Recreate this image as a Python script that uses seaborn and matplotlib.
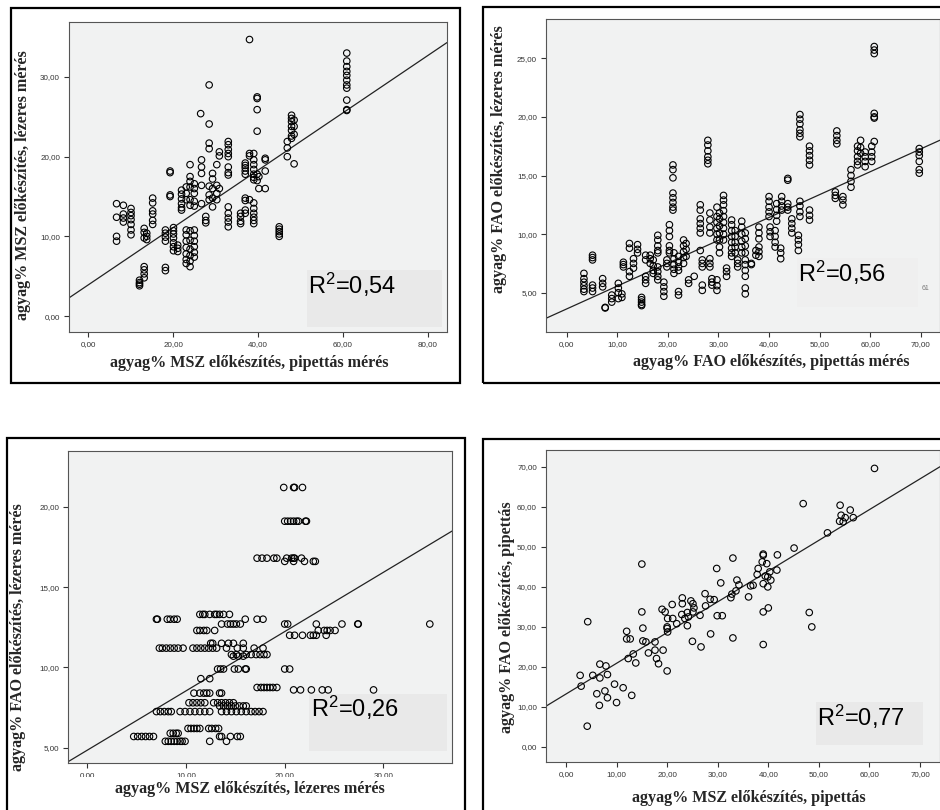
import pandas as pd
import numpy as np
import matplotlib
matplotlib.use("Agg")
import matplotlib.pyplot as plt
from matplotlib.patches import Rectangle
from matplotlib.ticker import FuncFormatter, MultipleLocator
import seaborn as sns

# --- data ------------------------------------------------------------------
# panel 1: vertical clusters (x: list of y)
p1_clusters = [
    (6.7, [14.1, 12.4, 10.0, 9.4]),
    (8.3, [13.9, 12.8, 12.3, 11.8]),
    (10.1, [13.5, 13.0, 12.6, 12.1, 11.5, 10.8, 10.2]),
    (12.1, [4.5, 4.2, 4.0, 3.8]),
    (13.2, [11.0, 10.5, 9.8, 6.2, 5.8, 5.3, 4.8]),
    (13.8, [10.4, 10.0, 9.6]),
    (15.2, [14.8, 14.2, 13.2, 12.8, 12.0, 11.5]),
    (18.2, [10.8, 10.4, 9.9, 9.4, 6.1, 5.7]),
    (19.3, [18.2, 18.0, 15.2, 15.0]),
    (20.1, [11.1, 10.7, 10.3, 9.8, 9.2, 8.7, 8.2]),
    (21.1, [8.9, 8.5, 8.1]),
    (22.0, [15.8, 15.3, 14.7, 14.1, 13.6, 13.3]),
    (23.1, [16.2, 15.4, 14.6, 10.8, 10.2, 9.4, 8.6, 7.8, 7.1, 6.6]),
    (24.0, [19.0, 17.5, 16.9, 16.2, 14.6, 13.9, 10.7, 9.5, 8.4, 7.6, 6.9, 6.2]),
    (25.0, [16.6, 16.0, 15.4, 14.4, 13.8, 10.8, 10.1, 9.4, 8.7, 8.0, 7.4]),
    (26.5, [25.4]),
    (26.7, [19.6, 18.7, 17.9, 16.4, 14.1]),
    (27.7, [12.5, 12.0, 11.7]),
    (28.5, [29.0, 24.1, 21.7, 21.0, 16.3, 15.2, 14.6]),
    (29.3, [17.9, 17.2, 16.0, 14.8, 13.7]),
    (30.3, [19.0, 16.4, 15.4, 14.6]),
    (30.9, [20.6, 20.1, 16.0]),
    (33.0, [21.9, 21.5, 20.9, 20.4, 20.0, 18.7, 18.0, 17.7, 13.7, 12.9, 12.3, 11.8, 11.2]),
    (35.9, [12.9, 12.5, 11.9, 11.6]),
    (37.0, [19.2, 18.9, 18.6, 18.2, 17.8, 14.8, 14.5, 13.3, 12.9]),
    (38.0, [34.7, 20.4, 20.1, 14.6]),
    (39.0, [20.4, 19.6, 19.0, 18.4, 17.8, 17.4, 17.1, 14.2, 13.5, 12.9, 12.4, 12.0, 11.6]),
    (39.8, [27.5, 27.3, 25.9, 23.2, 17.8, 17.0]),
    (40.2, [17.5, 16.0]),
    (41.7, [19.8, 19.6, 18.2, 16.0]),
    (45.0, [11.2, 10.9, 10.6, 10.3, 10.0]),
    (46.9, [21.9, 21.1, 20.0]),
    (47.9, [25.2, 24.8, 24.4, 23.8, 23.3, 22.6, 22.3]),
    (48.5, [24.6, 23.8, 22.8, 19.1]),
    (60.9, [33.0, 32.0, 31.3, 30.7, 30.2, 29.6, 29.0, 28.6, 27.1, 25.9, 25.8]),
]

# panel 2: vertical clusters (x: list of y)
p2_clusters = [
    (3.4, [6.65, 6.2, 5.9, 5.6, 5.3, 5.1]),
    (5.1, [8.2, 8.0, 7.8, 5.65, 5.4, 5.1]),
    (7.1, [6.2, 5.8, 5.5]),
    (7.6, [3.75, 3.7]),
    (8.9, [4.8, 4.5, 4.2]),
    (10.2, [5.8, 5.4, 5.0, 4.5]),
    (10.9, [4.9, 4.6]),
    (11.2, [7.6, 7.4, 7.2]),
    (12.4, [9.2, 8.8, 6.8, 6.4]),
    (13.2, [7.9, 7.5, 7.1]),
    (14.0, [9.1, 8.7, 8.4]),
    (14.8, [4.6, 4.4, 4.2, 4.0, 3.9]),
    (15.6, [8.2, 7.8, 6.4, 6.1, 5.8]),
    (16.5, [8.2, 7.9, 7.5]),
    (17.1, [7.8, 7.3, 6.9, 6.65]),
    (18.0, [9.9, 9.5, 9.0, 8.6, 8.4, 7.2, 6.8, 6.4, 6.1]),
    (19.2, [5.9, 5.5, 5.1, 4.7]),
    (19.8, [7.8, 7.5, 7.2]),
    (20.3, [10.8, 10.3, 9.8, 9.0, 8.6, 8.4]),
    (21.0, [15.9, 15.5, 14.8, 13.5, 13.1, 12.7, 12.3, 12.05]),
    (21.2, [8.4, 7.9, 7.4, 7.0, 6.65]),
    (22.1, [8.1, 7.6, 7.2, 6.9, 5.1, 4.8]),
    (23.1, [9.5, 9.0, 8.5, 8.0, 7.5]),
    (23.6, [9.2, 8.7, 8.1]),
    (24.1, [6.1, 5.8]),
    (25.2, [6.4]),
    (26.4, [12.5, 12.05, 11.3, 10.9, 10.5, 10.1, 8.6]),
    (26.8, [7.8, 7.5, 7.2, 5.65, 5.2]),
    (27.9, [18.0, 17.6, 17.1, 16.6, 16.3, 16.0]),
    (28.3, [11.8, 11.2, 10.6, 10.1, 7.9, 7.5, 7.2]),
    (28.7, [6.2, 5.9, 5.65]),
    (29.7, [12.3, 11.5, 11.0, 10.5, 10.0, 9.5, 6.1, 5.6, 5.2]),
    (30.2, [11.8, 11.3, 10.7, 10.1, 9.5, 8.9, 8.4]),
    (31.0, [13.3, 12.9, 12.5, 12.0, 11.5, 11.0, 10.5, 10.0, 9.5]),
    (31.6, [7.1, 6.8, 6.4]),
    (32.6, [11.2, 10.8, 10.3, 9.8, 9.3, 8.8, 8.4, 8.1]),
    (33.3, [10.3, 9.8, 9.3, 8.9, 8.4]),
    (33.8, [7.8, 7.5, 7.2]),
    (34.6, [11.1, 10.6, 10.0, 9.4, 8.9, 8.4]),
    (35.3, [10.1, 9.6, 9.0, 8.4, 7.8, 7.4, 6.9, 6.4, 5.4, 4.9]),
    (36.5, [7.5, 7.4]),
    (37.4, [8.6, 8.2]),
    (38.0, [10.6, 10.1, 9.6, 8.9, 8.5, 8.1]),
    (40.0, [13.2, 12.8, 12.3, 11.9, 11.5]),
    (40.2, [10.6, 10.2, 9.8]),
    (41.2, [10.3, 9.8, 9.3, 8.9]),
    (41.5, [12.6, 12.1, 11.6, 11.1]),
    (42.3, [8.8, 8.4, 7.9]),
    (42.5, [13.2, 12.8, 12.4, 12.05]),
    (43.7, [14.75, 14.6, 12.6, 12.3, 12.05]),
    (44.5, [11.3, 10.9, 10.5, 10.1]),
    (45.8, [9.9, 9.5, 9.1, 8.6]),
    (46.1, [20.2, 19.8, 19.4, 18.9, 18.6, 18.3, 12.8, 12.4, 11.9, 11.5]),
    (48.0, [17.5, 17.1, 16.7, 16.3, 15.9, 12.05, 11.6, 11.2]),
    (53.1, [13.6, 13.3, 13.05]),
    (53.4, [18.8, 18.4, 18.0, 17.7]),
    (54.6, [13.2, 12.9, 12.5]),
    (56.2, [15.5, 15.0, 14.5, 14.0]),
    (57.5, [17.5, 17.1, 16.6, 16.2, 15.9]),
    (58.1, [18.0, 17.4, 16.9]),
    (59.0, [17.0, 16.6, 16.2, 15.75]),
    (60.3, [17.5, 17.0, 16.6, 16.2]),
    (60.8, [26.0, 25.7, 25.4, 20.3, 20.0, 19.9, 17.9]),
    (69.7, [17.3, 17.0, 16.7, 16.2, 15.5, 15.2]),
]

# panel 3: horizontal rows (y: list of x)
p3_rows = [
    (21.2, [19.9, 20.9, 21.0, 21.8]),
    (19.1, [20.0, 20.3, 20.6, 20.9, 21.2, 21.4, 22.1, 22.2]),
    (16.8, [17.2, 17.7, 18.2, 18.9, 19.2, 20.2, 20.7, 20.9, 21.0, 21.7]),
    (16.6, [20.0, 20.9, 22.0, 22.9, 23.1]),
    (13.3, [11.4, 11.7, 11.9, 12.4, 12.9, 13.1, 13.4, 13.8, 14.4]),
    (13.0, [7.0, 7.1, 8.1, 8.4, 8.8, 9.1, 16.0, 17.2, 17.8]),
    (12.7, [13.6, 14.2, 14.5, 14.8, 15.1, 15.5, 20.0, 20.3, 23.2, 25.8, 27.4, 27.45, 34.7]),
    (12.3, [11.1, 11.4, 11.8, 12.1, 12.9, 23.4, 24.0, 24.3, 24.6, 25.1]),
    (12.0, [20.5, 21.0, 21.8, 22.6, 22.9, 23.2, 24.2]),
    (11.5, [12.5, 12.7, 13.6, 14.3, 14.8, 15.8]),
    (11.2, [7.3, 7.6, 8.0, 8.4, 8.8, 9.2, 9.7, 10.7, 11.1, 11.5, 11.9, 12.3, 12.7,
            13.1, 14.1, 15.2, 15.8, 16.9, 17.8]),
    (10.8, [14.6, 15.1, 16.1, 16.6, 17.1, 17.5, 17.9, 18.2]),
    (10.7, [14.8, 15.3, 15.8]),
    (9.9, [13.2, 13.5, 13.8, 14.9, 15.3, 16.0, 16.1, 20.0, 20.5]),
    (9.3, [11.5, 12.4]),
    (8.75, [17.2, 17.6, 17.9, 18.2, 18.5, 18.8, 19.2]),
    (8.6, [20.9, 21.6, 22.7, 23.8, 24.4, 29.0]),
    (8.4, [10.8, 11.4, 11.8, 12.1, 12.4, 13.4, 13.6]),
    (7.8, [10.3, 10.7, 11.1, 11.5, 11.9, 12.8, 13.2, 13.6, 14.0, 14.4, 14.8]),
    (7.6, [13.4, 13.8, 14.2, 14.6, 15.0, 15.4, 15.8, 16.1]),
    (7.25, [7.0, 7.4, 7.8, 8.2, 8.5, 9.4, 9.9, 10.4, 10.9, 11.4, 11.9, 12.4, 13.6,
            14.1, 14.6, 15.1, 15.6, 16.1, 16.6, 17.0, 17.4, 17.8]),
    (6.2, [10.2, 10.5, 10.8, 11.1, 11.4, 12.3, 12.6, 13.0, 13.3]),
    (5.9, [8.4, 8.7, 9.0, 9.2]),
    (5.7, [4.7, 5.1, 5.5, 5.9, 6.3, 6.7, 13.4, 13.6, 14.5, 15.2, 15.5]),
    (5.4, [7.9, 8.2, 8.5, 8.8, 9.1, 9.4, 9.6, 9.9, 12.4, 14.1]),
]

# panel 4: single points
p4_x = [61.0, 46.9, 54.2, 56.2, 54.4, 55.2, 56.8, 54.1, 54.8, 51.7, 45.1, 39.0, 39.0,
        41.8, 33.0, 15.0, 38.8, 39.7, 29.8, 38.0, 41.7, 40.3, 37.8, 39.4, 39.9, 33.8,
        40.5, 30.6, 34.2, 39.0, 36.5, 37.0, 39.9, 33.6, 32.8, 27.5, 32.6, 36.1, 23.0,
        24.7, 29.3, 28.5, 23.0, 21.0, 25.1, 27.6, 25.3, 19.0, 40.0, 19.6, 15.0, 48.1,
        39.0, 24.0, 25.1, 22.9, 26.5, 29.9, 30.9, 24.2, 23.5, 21.1, 20.1, 21.9, 20.0,
        20.0, 24.0, 4.3, 48.6, 15.2, 20.1, 12.0, 28.6, 12.0, 12.7, 33.0, 15.2, 15.8,
        17.6, 25.0, 39.0, 26.7, 19.2, 17.6, 16.3, 13.3, 12.3, 17.9, 13.8, 18.3, 6.7,
        7.9, 20.0, 2.8, 5.3, 8.2, 6.7, 3.0, 9.6, 11.3, 7.7, 6.1, 13.0, 8.2, 10.0, 6.6,
        4.2]
p4_y = [69.6, 60.8, 60.4, 59.2, 57.9, 57.3, 57.3, 56.4, 56.25, 53.5, 49.7, 48.2, 47.9,
        48.0, 47.2, 45.7, 46.25, 45.8, 44.6, 44.6, 44.2, 43.75, 43.1, 42.7, 42.5, 41.7,
        41.7, 41.0, 40.5, 40.8, 40.25, 40.4, 40.0, 39.0, 38.2, 38.3, 37.3, 37.5, 37.25,
        36.5, 36.8, 36.9, 35.8, 35.6, 35.8, 35.25, 34.75, 34.4, 34.75, 33.75, 33.75, 33.6,
        33.75, 33.6, 33.75, 33.1, 32.9, 32.8, 32.8, 32.5, 32.1, 32.1, 32.1, 30.8, 30.0,
        29.6, 30.3, 31.3, 30.0, 29.7, 28.75, 28.9, 28.25, 27.0, 27.0, 27.25, 26.5, 26.25,
        26.25, 26.4, 25.6, 25.0, 24.2, 24.2, 23.5, 23.25, 22.1, 22.1, 21.0, 20.8, 20.7,
        20.25, 19.0, 17.9, 17.9, 18.1, 17.25, 15.2, 15.7, 14.8, 14.0, 13.3, 12.9, 12.3,
        11.1, 10.4, 5.2]

# fitted lines as printed on the chart (intercept, slope) and R2 labels
fit_lines = [(3.9, 0.36), (3.62, 0.195), (4.85, 0.369), (13.23, 0.768)]
r2_labels = ["0,54", "0,56", "0,26", "0,77"]

xlabels = ["agyag% MSZ előkészítés, pipettás mérés",
           "agyag% FAO előkészítés, pipettás mérés",
           "agyag% MSZ előkészítés, lézeres mérés",
           "agyag% MSZ előkészítés, pipettás"]
ylabels = ["agyag% MSZ előkészítés, lézeres mérés",
           "agyag% FAO előkészítés, lézeres mérés",
           "agyag% FAO előkészítés, lézeres mérés",
           "agyag% FAO előkészítés, pipettás"]


def cols_to_df(clusters):
    xs, ys = [], []
    for x, yl in clusters:
        xs += [x] * len(yl)
        ys += yl
    return pd.DataFrame({"x": xs, "y": ys})


def rows_to_df(rows):
    xs, ys = [], []
    for y, xl in rows:
        xs += xl
        ys += [y] * len(xl)
    return pd.DataFrame({"x": xs, "y": ys})


frames = [cols_to_df(p1_clusters), cols_to_df(p2_clusters),
          rows_to_df(p3_rows), pd.DataFrame({"x": p4_x, "y": p4_y})]

# --- layout -----------------------------------------------------------------
sns.set_style("white")
plt.rcParams["font.family"] = ["Liberation Sans", "DejaVu Sans"]
plt.rcParams["mathtext.default"] = "regular"

W, H = 940, 810
fig = plt.figure(figsize=(9.4, 8.1), dpi=100)


def px_rect(l, t, r, b):
    return [l / W, 1 - b / H, (r - l) / W, (b - t) / H]


ax_boxes = [(69, 22, 447, 332), (546, 19, 940, 332), (68, 451, 452, 763), (546, 450, 940, 762)]
frame_boxes = [(11, 8, 460, 383), (483, 7, 950, 383), (7, 438, 465, 820), (483, 439, 950, 820)]
xlims = [(-4.5, 84.5), (-4.1, 73.8), (-1.96, 36.95), (-3.95, 73.95)]
ylims = [(-2.0, 36.9), (1.65, 28.35), (4.05, 23.47), (-3.75, 74.2)]
xsteps = [20, 10, 10, 10]
ysteps = [10, 5, 5, 10]
r2_box = [(0.630, 0.016, 0.357, 0.184), (0.637, 0.08, 0.307, 0.156),
          (0.628, 0.038, 0.359, 0.183), (0.685, 0.054, 0.272, 0.138)]
r2_pos = [(0.632, 0.152), (0.640, 0.188), (0.633, 0.176), (0.688, 0.144)]
r2_shade = ["#e9e9e9", "#efefef", "#e9e9e9", "#e9e9e9"]
xlab_pos = [(0.476, -0.10), (0.571, -0.096), None, (0.515, -0.115)]
ylab_pos = [(-0.122, 0.474), (-0.119, 0.553), (-0.13, 0.404), (-0.099, 0.465)]

fmt = FuncFormatter(lambda v, p: f"{v:.2f}".replace(".", ","))
lab_font = dict(family="Liberation Serif", weight="bold", size=11.6)

for i in range(4):
    fig.add_artist(Rectangle((frame_boxes[i][0] / W, 1 - frame_boxes[i][3] / H),
                             (frame_boxes[i][2] - frame_boxes[i][0]) / W,
                             (frame_boxes[i][3] - frame_boxes[i][1]) / H,
                             transform=fig.transFigure, fill=False,
                             edgecolor="black", linewidth=1.6, zorder=0))
    ax = fig.add_axes(px_rect(*ax_boxes[i]))
    ax.set_facecolor("#f1f2f2")
    df = frames[i]
    sns.scatterplot(data=df, x="x", y="y", ax=ax, marker="o", s=22,
                    facecolor="none", edgecolor="black", linewidth=0.8, zorder=3)
    b0, b1 = fit_lines[i]
    ax.axline((0, b0), slope=b1, color="#222222", linewidth=0.9, zorder=2)
    ax.set_xlim(*xlims[i])
    ax.set_ylim(*ylims[i])
    ax.xaxis.set_major_locator(MultipleLocator(xsteps[i]))
    ax.yaxis.set_major_locator(MultipleLocator(ysteps[i]))
    ax.xaxis.set_major_formatter(fmt)
    ax.yaxis.set_major_formatter(fmt)
    ax.tick_params(axis="both", direction="out", length=3.5, width=0.8,
                   labelsize=5.8, labelcolor="#333333", color="#333333", pad=3,
                   bottom=True, left=True)
    for sp in ax.spines.values():
        sp.set_color("#555555")
        sp.set_linewidth(0.8)
    bx = r2_box[i]
    ax.add_patch(Rectangle((bx[0], bx[1]), bx[2], bx[3], transform=ax.transAxes,
                           facecolor=r2_shade[i], edgecolor="none", zorder=1))
    ax.text(r2_pos[i][0], r2_pos[i][1], "R$^{2}$=" + r2_labels[i], transform=ax.transAxes,
            fontsize=17, va="center", ha="left", color="black", zorder=4,
            family="Liberation Sans")
    ax.set_ylabel(ylabels[i], **lab_font)
    ax.yaxis.set_label_coords(*ylab_pos[i])
    ax.yaxis.label.set_va("center")
    if xlab_pos[i] is not None:
        ax.set_xlabel(xlabels[i], **lab_font)
        ax.xaxis.set_label_coords(*xlab_pos[i])
        ax.xaxis.label.set_va("center")
    else:
        ax.set_xlabel("")

# small stray label in panel 2
fig.axes[1].text(0.954, 0.14, "61", transform=fig.axes[1].transAxes, fontsize=5,
                 color="#777777", va="center")

# panel 3: tick labels half hidden behind the axis title
fig.add_artist(Rectangle((40 / W, 1 - 800 / H), 415 / W, 23 / H, transform=fig.transFigure,
                         facecolor="white", edgecolor="none", zorder=5))
fig.text(250 / W, 1 - 789 / H, xlabels[2], ha="center", va="center", zorder=6, **lab_font)

fig.savefig("out.png", dpi=100)
